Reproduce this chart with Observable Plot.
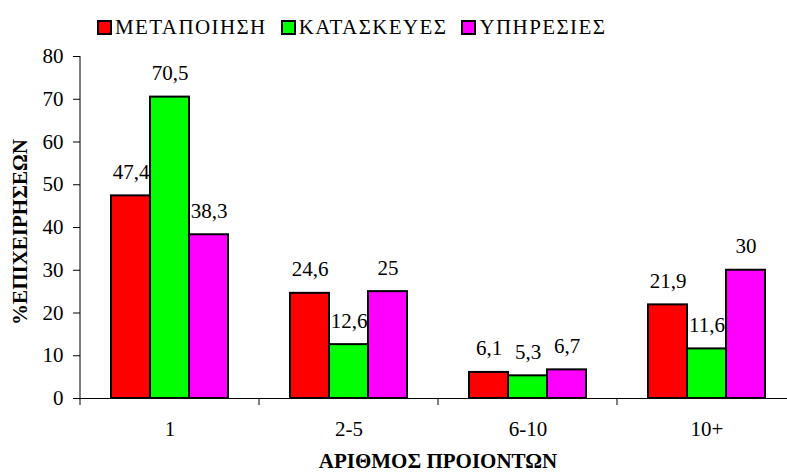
<!DOCTYPE html>
<html>
<head>
<meta charset="utf-8">
<script src="https://cdn.jsdelivr.net/npm/d3@7"></script>
<script src="https://cdn.jsdelivr.net/npm/@observablehq/plot@0.6"></script>
<style>
  html, body { margin: 0; padding: 0; background: white; overflow: hidden; }
  #wrap { position: relative; width: 787px; height: 474px; }
  #legend { position: absolute; left: 97px; top: 17px; display: flex; align-items: center;
    font-family: "Liberation Serif", "Times New Roman", serif; font-size: 21px; color: black; }
  .item { display: flex; align-items: center; margin-right: 14px; }
  .sw { width: 15px; height: 15px; box-sizing: border-box; border: 2.5px solid black; margin-right: 3px; }
  .lab { letter-spacing: 1.4px; line-height: 21px; }
  svg text { font-family: "Liberation Serif", "Times New Roman", serif !important; }
</style>
</head>
<body>
<div id="wrap"><div id="legend"></div></div>
<script>
const categories = ["1", "2-5", "6-10", "10+"];
const series = ["ΜΕΤΑΠΟΙΗΣΗ", "ΚΑΤΑΣΚΕΥΕΣ", "ΥΠΗΡΕΣΙΕΣ"];
const metapoiisi = [47.4, 24.6, 6.1, 21.9];
const kataskeves = [70.5, 12.6, 5.3, 11.6];
const ypiresies = [38.3, 25, 6.7, 30];
const colors = ["#ff0000", "#00ff00", "#ff00ff"];
const yTicks = [0, 10, 20, 30, 40, 50, 60, 70, 80];
const yLabel = "%ΕΠΙΧΕΙΡΗΣΕΩΝ";
const xLabel = "ΑΡΙΘΜΟΣ ΠΡΟΙΟΝΤΩΝ";

const seriesValues = [metapoiisi, kataskeves, ypiresies];
const data = [];
categories.forEach((c, i) => {
  series.forEach((s, j) => data.push({cat: c, series: s, value: seriesValues[j][i]}));
});
const fmt = v => String(v).replace(".", ",");
const FONT = '"Liberation Serif", "Times New Roman", serif';

const chart = Plot.plot({
  width: 787,
  height: 474,
  marginLeft: 79,
  marginRight: -9,
  marginTop: 56,
  marginBottom: 76,
  style: {fontFamily: FONT, fontSize: "21px", color: "black", background: "white"},
  facet: {data, x: "cat"},
  fx: {domain: categories, paddingInner: 0, paddingOuter: 0, axis: "bottom", label: null, tickSize: 0, tickPadding: 23},
  x: {domain: series, paddingInner: 0, paddingOuter: 0.75, axis: null},
  y: {domain: [0, 80], ticks: yTicks, tickSize: 7, tickPadding: 10, label: null},
  color: {domain: series, range: colors},
  marks: [
    Plot.barY(data, {x: "series", y: "value", fill: "series", stroke: "black", strokeWidth: 2}),
    Plot.ruleY([0], {stroke: "black", strokeWidth: 1}),
    Plot.text(data, {x: "series", y: "value", text: d => fmt(d.value), dy: -17, lineAnchor: "bottom", fontSize: 21, fill: "black"})
  ]
});

document.getElementById("wrap").prepend(chart);

// axis lines, boundary ticks and titles drawn from the chart's scales
const svg = d3.select(chart);
const ys = chart.scale("y");
const fxs = chart.scale("fx");
const y0 = ys.apply(0), yTop = ys.apply(80);
const x0 = fxs.apply(categories[0]);
const g = svg.append("g").attr("stroke", "black").attr("stroke-width", 1);
g.append("line").attr("x1", x0).attr("x2", x0).attr("y1", yTop).attr("y2", y0 + 7);
categories.slice(1).forEach(c => {
  const xb = fxs.apply(c);
  g.append("line").attr("x1", xb).attr("x2", xb).attr("y1", y0).attr("y2", y0 + 7);
});
const xEnd = fxs.apply(categories[categories.length - 1]) + fxs.bandwidth;
svg.append("text")
  .attr("x", (x0 + xEnd) / 2).attr("y", 468)
  .attr("text-anchor", "middle").attr("font-weight", "bold").attr("font-size", 21)
  .attr("fill", "black").text(xLabel);
svg.append("text")
  .attr("transform", "translate(20,232) rotate(-90)")
  .attr("dy", "0.35em")
  .attr("text-anchor", "middle").attr("font-weight", "bold").attr("font-size", 21)
  .attr("fill", "black").text(yLabel);

// legend
const legend = d3.select("#legend");
series.forEach((s, j) => {
  const it = legend.append("div").attr("class", "item");
  it.append("div").attr("class", "sw").style("background", colors[j]);
  it.append("span").attr("class", "lab").text(s);
});
</script>
</body>
</html>
